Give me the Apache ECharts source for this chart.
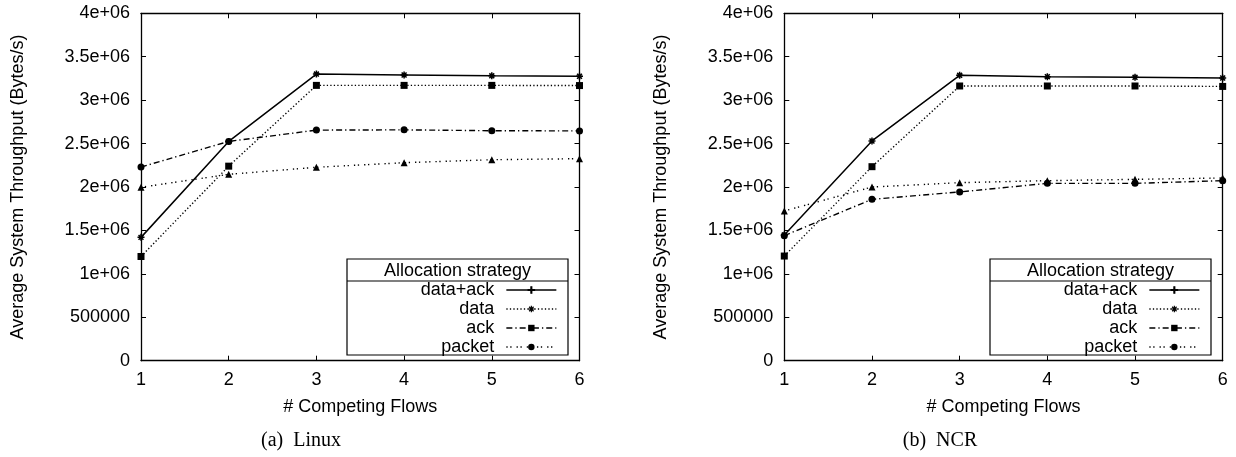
<!DOCTYPE html>
<html><head><meta charset="utf-8">
<script src="https://cdn.jsdelivr.net/npm/echarts@6/dist/echarts.min.js"></script>
<style>html,body{margin:0;padding:0;background:#fff}#c{width:1236px;height:457px}</style>
</head><body><div id="c"></div>
<script>
// ---- data ----
const flows = [1, 2, 3, 4, 5, 6];
const seriesNames = ['data+ack', 'data', 'ack', 'packet'];
const linuxDataAck = [1420000, 2525000, 3300000, 3290000, 3280000, 3275000];
const linuxData    = [1200000, 2240000, 3170000, 3170000, 3170000, 3168000];
const linuxAck     = [2230000, 2525000, 2655000, 2658000, 2648000, 2646000];
const linuxPacket  = [1997000, 2146000, 2227000, 2280000, 2314000, 2326000];
const ncrDataAck   = [1447000, 2530000, 3286000, 3270000, 3263000, 3255000];
const ncrData      = [1205000, 2234000, 3163000, 3163000, 3163000, 3158000];
const ncrAck       = [1440000, 1858000, 1943000, 2042000, 2042000, 2073000];
const ncrPacket    = [1724000, 2000000, 2050000, 2073000, 2088000, 2104000];
const yTickLabels = ['0', '500000', '1e+06', '1.5e+06', '2e+06', '2.5e+06', '3e+06', '3.5e+06', '4e+06'];
const xTickLabels = ['1', '2', '3', '4', '5', '6'];
const panelCaptions = ['(a)  Linux', '(b)  NCR'];
const legendTitle = 'Allocation strategy';
const xTitle = '# Competing Flows';
const yTitle = 'Average System Throughput (Bytes/s)';

// ---- styles ----
const FONT = '"Liberation Sans", Arial, Helvetica, sans-serif';
const SERIF = '"Liberation Serif", "Times New Roman", serif';
const STAR = 'path://M0,5L10,5M5,0L5,10M1.5,1.5L8.5,8.5M8.5,1.5L1.5,8.5';
const PLUS = 'path://M4.3,0H5.7V4.3H10V5.7H5.7V10H4.3V5.7H0V4.3H4.3Z';
const lineTypes = ['solid', [1.3, 2.2], [6, 3, 1.3, 3], [1.3, 2.6, 1.3, 5]];
const plotSymbols = [STAR, 'rect', 'circle', 'triangle'];
const plotSizes = [7, 7, 7, 7];
const legendSymbols = [PLUS, STAR, 'rect', 'circle'];

const panels = [
  [linuxDataAck, linuxData, linuxAck, linuxPacket],
  [ncrDataAck, ncrData, ncrAck, ncrPacket]
];
const grids = [
  {left: 141, top: 13.3, width: 438.5, height: 347.4, outerBoundsMode: 'none'},
  {left: 784.3, top: 13.3, width: 438.4, height: 347.4, outerBoundsMode: 'none'}
];

const xAxes = [], yAxes = [], series = [];
const axLine = {show: true, onZero: false, lineStyle: {color: '#000', width: 1.3}};
const axTick = {show: true, inside: true, length: 5, lineStyle: {color: '#000', width: 1}};
const lblStyle = {color: '#000', fontSize: 18, fontFamily: FONT};

grids.forEach((g, gi) => {
  xAxes.push({
    type: 'value', gridIndex: gi, position: 'bottom', min: 1, max: 6, interval: 1,
    axisLine: axLine, axisTick: axTick, splitLine: {show: false},
    axisLabel: Object.assign({margin: 10, showMinLabel: true, showMaxLabel: true,
      formatter: v => xTickLabels[flows.indexOf(v)] || String(v)}, lblStyle),
    name: xTitle, nameLocation: 'middle', nameGap: 37,
    nameTextStyle: {color: '#000', fontSize: 18, fontFamily: FONT}
  });
  xAxes.push({
    type: 'value', gridIndex: gi, position: 'top', min: 1, max: 6, interval: 1,
    axisLine: axLine, axisTick: axTick, splitLine: {show: false}, axisLabel: {show: false}
  });
  yAxes.push({
    type: 'value', gridIndex: gi, position: 'left', min: 0, max: 4000000, interval: 500000,
    axisLine: axLine, axisTick: axTick, splitLine: {show: false},
    axisLabel: Object.assign({margin: 11, showMinLabel: true, showMaxLabel: true,
      formatter: v => yTickLabels[Math.round(v / 500000)]}, lblStyle),
    name: yTitle, nameLocation: 'middle', nameGap: 114, nameRotate: 90,
    nameTextStyle: {color: '#000', fontSize: 18, fontFamily: FONT}
  });
  yAxes.push({
    type: 'value', gridIndex: gi, position: 'right', min: 0, max: 4000000, interval: 500000,
    axisLine: axLine, axisTick: axTick, splitLine: {show: false}, axisLabel: {show: false}
  });
});

// legend-only series (carry the legend's marker look), placed first
seriesNames.forEach((n, si) => {
  series.push({
    type: 'line', name: n, xAxisIndex: 0, yAxisIndex: 0, data: [],
    symbol: legendSymbols[si], symbolSize: 7,
    lineStyle: {color: '#000', width: 1.3, type: lineTypes[si]},
    itemStyle: {color: '#000', borderColor: '#000', borderWidth: si <= 1 ? 1.2 : 0}
  });
});

panels.forEach((arrs, gi) => {
  arrs.forEach((arr, si) => {
    series.push({
      type: 'line', name: seriesNames[si], xAxisIndex: gi * 2, yAxisIndex: gi * 2,
      data: flows.map((x, i) => [x, arr[i]]),
      symbol: plotSymbols[si], symbolSize: plotSizes[si], showSymbol: true, showAllSymbol: true,
      lineStyle: {color: '#000', width: si === 0 ? 1.5 : 1.4, type: lineTypes[si]},
      itemStyle: {color: '#000', borderColor: '#000', borderWidth: si === 0 ? 1.5 : 0},
      emphasis: {disabled: true}, z: 3
    });
  });
});

const legendData = seriesNames.map((n, si) => ({
  name: n,
  lineStyle: {color: '#000', width: 1.3, type: lineTypes[si]},
  itemStyle: {color: '#000', borderColor: '#000', borderWidth: si <= 1 ? 1.2 : 0}
}));
const legendRights = [1236 - 557, 1236 - 1200];
const legends = legendRights.map(r => ({
  data: legendData, orient: 'vertical', align: 'right', right: r, top: 281,
  padding: 0, itemWidth: 50, itemHeight: 8, itemGap: 1, selectedMode: false,
  textStyle: {color: '#000', fontSize: 18, fontFamily: FONT, lineHeight: 14, padding: [0, 7, 0, 0]}
}));

const boxes = [{x: 347, w: 221}, {x: 990, w: 221}];
const graphic = [];
boxes.forEach((b, i) => {
  graphic.push({type: 'rect', shape: {x: b.x, y: 259, width: b.w, height: 96},
    style: {fill: null, stroke: '#000', lineWidth: 1.2}, z: 5, silent: true});
  graphic.push({type: 'line', shape: {x1: b.x, y1: 281, x2: b.x + b.w, y2: 281},
    style: {stroke: '#000', lineWidth: 1.2}, z: 5, silent: true});
  graphic.push({type: 'text', x: b.x + b.w / 2, y: 271, z: 5, silent: true,
    style: {text: legendTitle, fill: '#000', font: '18px ' + FONT, align: 'center', verticalAlign: 'middle'}});
});
[301, 940].forEach((cx, i) => {
  graphic.push({type: 'text', x: cx, y: 441, silent: true,
    style: {text: panelCaptions[i], fill: '#000', font: '20px ' + SERIF, align: 'center', verticalAlign: 'middle'}});
});

const chart = echarts.init(document.getElementById('c'), null, {renderer: 'canvas'});
chart.setOption({
  animation: false,
  backgroundColor: '#fff',
  grid: grids,
  xAxis: xAxes,
  yAxis: yAxes,
  legend: legends,
  series: series,
  graphic: graphic
});
</script></body></html>
